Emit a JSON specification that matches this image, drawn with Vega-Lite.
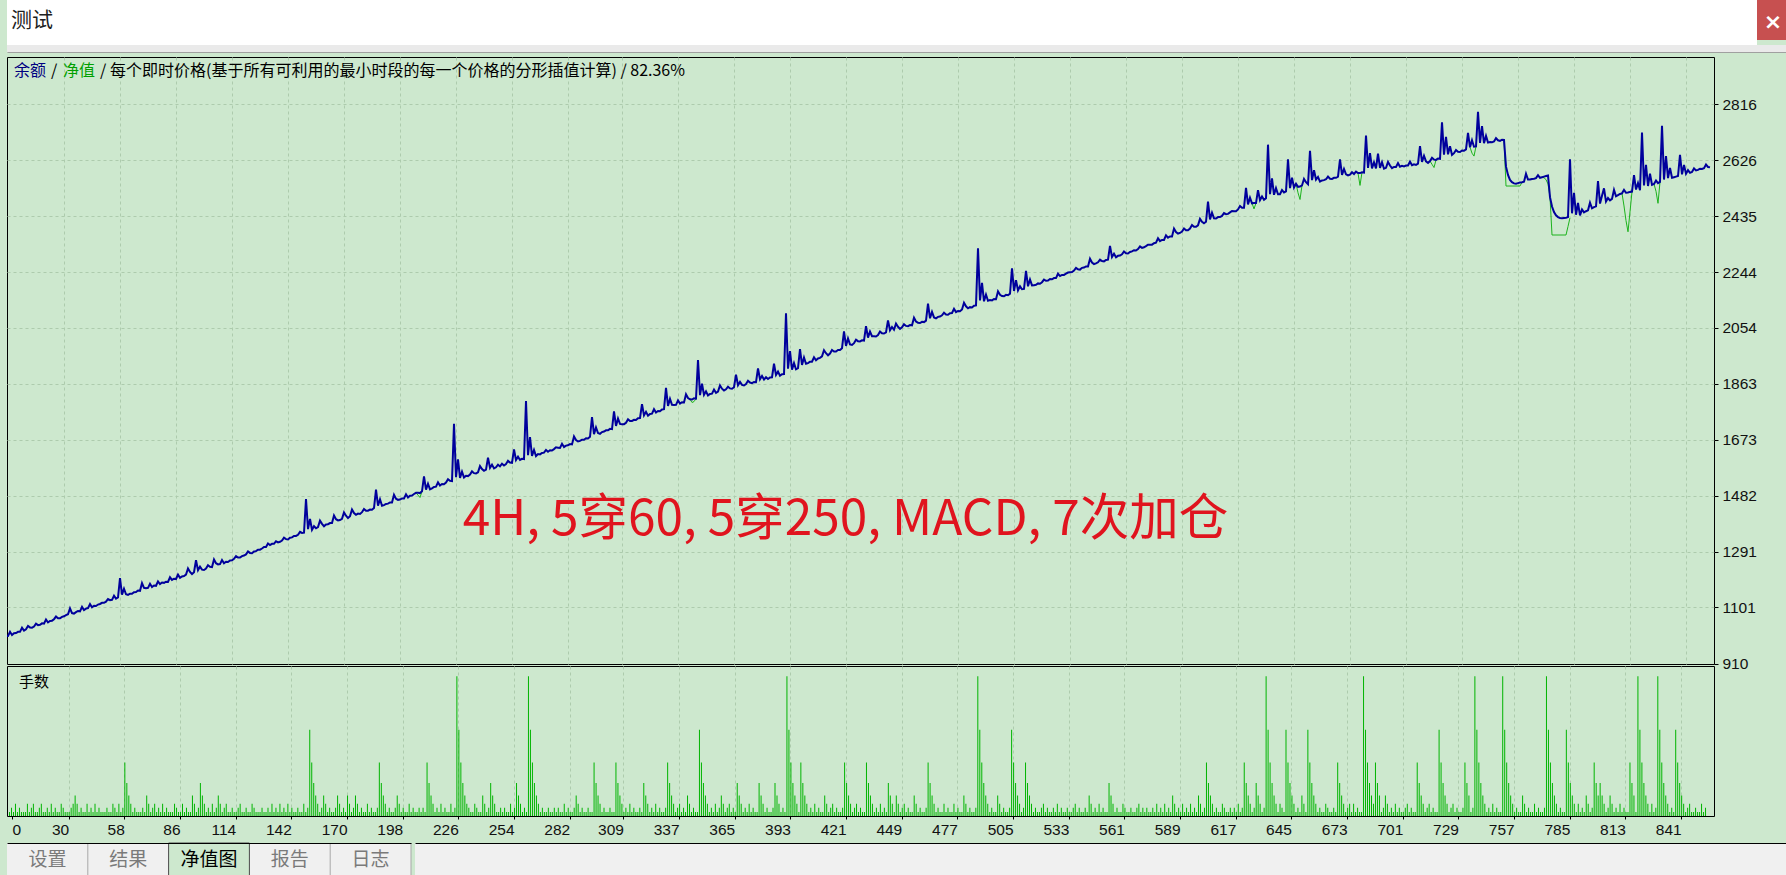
{
"$schema": "https://vega.github.io/schema/vega-lite/v6.json",
"background": "#CDE8CE",
"padding": {"left": 4, "top": 0, "right": 0, "bottom": 0},
"config": {"view": {"stroke": null}, "font": "Liberation Sans"},
"datasets": {
"tabs": [{"tab": "设置"}, {"tab": "结果"}, {"tab": "净值图"}, {"tab": "报告"}, {"tab": "日志"}],
"equity": [
{"seg":1,"n":206,"eq":1492},{"seg":1,"n":207,"eq":1484},{"seg":1,"n":208,"eq":1476},{"seg":1,"n":209,"eq":1497},
{"seg":2,"n":343,"eq":1811},{"seg":2,"n":344,"eq":1800},{"seg":2,"n":345,"eq":1803},{"seg":2,"n":346,"eq":1813},
{"seg":3,"n":624,"eq":2479},{"seg":3,"n":625,"eq":2460},{"seg":3,"n":626,"eq":2480},
{"seg":4,"n":646,"eq":2546},{"seg":4,"n":647,"eq":2515},{"seg":4,"n":648,"eq":2492},{"seg":4,"n":649,"eq":2540},
{"seg":5,"n":677,"eq":2582},{"seg":5,"n":678,"eq":2540},{"seg":5,"n":679,"eq":2585},
{"seg":6,"n":713,"eq":2623},{"seg":6,"n":714,"eq":2612},{"seg":6,"n":715,"eq":2601},{"seg":6,"n":716,"eq":2627},
{"seg":7,"n":733,"eq":2670},{"seg":7,"n":734,"eq":2650},{"seg":7,"n":735,"eq":2640},{"seg":7,"n":736,"eq":2673},
{"seg":8,"n":750,"eq":2695},{"seg":8,"n":751,"eq":2538},{"seg":8,"n":752,"eq":2538},{"seg":8,"n":753,"eq":2538},{"seg":8,"n":754,"eq":2538},{"seg":8,"n":755,"eq":2538},{"seg":8,"n":756,"eq":2538},{"seg":8,"n":757,"eq":2538},{"seg":8,"n":758,"eq":2538},{"seg":8,"n":759,"eq":2551},
{"seg":9,"n":769,"eq":2568},{"seg":9,"n":770,"eq":2566},{"seg":9,"n":771,"eq":2560},{"seg":9,"n":772,"eq":2545},{"seg":9,"n":773,"eq":2500},{"seg":9,"n":774,"eq":2371},{"seg":9,"n":775,"eq":2371},{"seg":9,"n":776,"eq":2371},{"seg":9,"n":777,"eq":2371},{"seg":9,"n":778,"eq":2371},{"seg":9,"n":779,"eq":2371},{"seg":9,"n":780,"eq":2371},{"seg":9,"n":781,"eq":2371},{"seg":9,"n":782,"eq":2400},{"seg":9,"n":783,"eq":2430},
{"seg":10,"n":809,"eq":2513},{"seg":10,"n":810,"eq":2470},{"seg":10,"n":811,"eq":2420},{"seg":10,"n":812,"eq":2382},{"seg":10,"n":813,"eq":2450},{"seg":10,"n":814,"eq":2519},
{"seg":11,"n":825,"eq":2545},{"seg":11,"n":826,"eq":2520},{"seg":11,"n":827,"eq":2479},{"seg":11,"n":828,"eq":2552}
],
"trades": [
{"n":0,"b":1000,"lot":0.01},{"n":1,"b":1004,"lot":0.02},{"n":2,"b":1004,"lot":0.01},{"n":3,"b":1018,"lot":0.03},{"n":4,"b":1007,"lot":0.01},{"n":5,"b":1013,"lot":0.02},{"n":6,"b":1014,"lot":0.01},{"n":7,"b":1018,"lot":0.01},{"n":8,"b":1018,"lot":0.01},{"n":9,"b":1032,"lot":0.03},
{"n":10,"b":1022,"lot":0.01},{"n":11,"b":1027,"lot":0.02},{"n":12,"b":1038,"lot":0.03},{"n":13,"b":1033,"lot":0.01},{"n":14,"b":1032,"lot":0.01},{"n":15,"b":1036,"lot":0.02},{"n":16,"b":1046,"lot":0.03},{"n":17,"b":1041,"lot":0.01},{"n":18,"b":1042,"lot":0.01},{"n":19,"b":1047,"lot":0.02},
{"n":20,"b":1046,"lot":0.01},{"n":21,"b":1060,"lot":0.03},{"n":22,"b":1050,"lot":0.01},{"n":23,"b":1055,"lot":0.02},{"n":24,"b":1056,"lot":0.01},{"n":25,"b":1061,"lot":0.01},{"n":26,"b":1070,"lot":0.03},{"n":27,"b":1064,"lot":0.02},{"n":28,"b":1064,"lot":0.01},{"n":29,"b":1069,"lot":0.01},
{"n":30,"b":1071,"lot":0.01},{"n":31,"b":1075,"lot":0.02},{"n":32,"b":1078,"lot":0.03},{"n":33,"b":1098,"lot":0.05},{"n":34,"b":1082,"lot":0.03},{"n":35,"b":1080,"lot":0.01},{"n":36,"b":1085,"lot":0.02},{"n":37,"b":1089,"lot":0.01},{"n":38,"b":1088,"lot":0.01},{"n":39,"b":1103,"lot":0.03},
{"n":40,"b":1092,"lot":0.01},{"n":41,"b":1097,"lot":0.02},{"n":42,"b":1099,"lot":0.01},{"n":43,"b":1113,"lot":0.03},{"n":44,"b":1102,"lot":0.01},{"n":45,"b":1107,"lot":0.02},{"n":46,"b":1106,"lot":0.01},{"n":47,"b":1111,"lot":0.01},{"n":48,"b":1113,"lot":0.01},{"n":49,"b":1117,"lot":0.02},
{"n":50,"b":1117,"lot":0.01},{"n":51,"b":1121,"lot":0.01},{"n":52,"b":1130,"lot":0.03},{"n":53,"b":1126,"lot":0.02},{"n":54,"b":1127,"lot":0.01},{"n":55,"b":1141,"lot":0.03},{"n":56,"b":1131,"lot":0.01},{"n":57,"b":1135,"lot":0.02},{"n":58,"b":1201,"lot":0.13},{"n":59,"b":1145,"lot":0.08},
{"n":60,"b":1165,"lot":0.05},{"n":61,"b":1146,"lot":0.03},{"n":62,"b":1144,"lot":0.01},{"n":63,"b":1148,"lot":0.02},{"n":64,"b":1148,"lot":0.01},{"n":65,"b":1153,"lot":0.01},{"n":66,"b":1154,"lot":0.01},{"n":67,"b":1159,"lot":0.02},{"n":68,"b":1158,"lot":0.01},{"n":69,"b":1184,"lot":0.05},
{"n":70,"b":1168,"lot":0.03},{"n":71,"b":1167,"lot":0.01},{"n":72,"b":1168,"lot":0.02},{"n":73,"b":1182,"lot":0.03},{"n":74,"b":1171,"lot":0.01},{"n":75,"b":1176,"lot":0.02},{"n":76,"b":1175,"lot":0.01},{"n":77,"b":1190,"lot":0.03},{"n":78,"b":1181,"lot":0.01},{"n":79,"b":1186,"lot":0.02},
{"n":80,"b":1185,"lot":0.01},{"n":81,"b":1189,"lot":0.01},{"n":82,"b":1188,"lot":0.01},{"n":83,"b":1204,"lot":0.03},{"n":84,"b":1195,"lot":0.02},{"n":85,"b":1199,"lot":0.01},{"n":86,"b":1198,"lot":0.01},{"n":87,"b":1213,"lot":0.03},{"n":88,"b":1202,"lot":0.01},{"n":89,"b":1207,"lot":0.02},
{"n":90,"b":1208,"lot":0.01},{"n":91,"b":1213,"lot":0.01},{"n":92,"b":1234,"lot":0.05},{"n":93,"b":1222,"lot":0.03},{"n":94,"b":1215,"lot":0.01},{"n":95,"b":1221,"lot":0.02},{"n":96,"b":1262,"lot":0.08},{"n":97,"b":1228,"lot":0.05},{"n":98,"b":1240,"lot":0.03},{"n":99,"b":1230,"lot":0.01},
{"n":100,"b":1229,"lot":0.02},{"n":101,"b":1234,"lot":0.01},{"n":102,"b":1245,"lot":0.03},{"n":103,"b":1240,"lot":0.01},{"n":104,"b":1239,"lot":0.02},{"n":105,"b":1265,"lot":0.05},{"n":106,"b":1252,"lot":0.03},{"n":107,"b":1248,"lot":0.01},{"n":108,"b":1249,"lot":0.02},{"n":109,"b":1263,"lot":0.03},
{"n":110,"b":1252,"lot":0.01},{"n":111,"b":1257,"lot":0.01},{"n":112,"b":1256,"lot":0.02},{"n":113,"b":1261,"lot":0.01},{"n":114,"b":1262,"lot":0.01},{"n":115,"b":1267,"lot":0.02},{"n":116,"b":1276,"lot":0.03},{"n":117,"b":1271,"lot":0.01},{"n":118,"b":1271,"lot":0.01},{"n":119,"b":1276,"lot":0.02},
{"n":120,"b":1278,"lot":0.01},{"n":121,"b":1282,"lot":0.01},{"n":122,"b":1292,"lot":0.03},{"n":123,"b":1287,"lot":0.02},{"n":124,"b":1286,"lot":0.01},{"n":125,"b":1292,"lot":0.01},{"n":126,"b":1293,"lot":0.01},{"n":127,"b":1298,"lot":0.02},{"n":128,"b":1298,"lot":0.01},{"n":129,"b":1302,"lot":0.01},
{"n":130,"b":1307,"lot":0.02},{"n":131,"b":1307,"lot":0.01},{"n":132,"b":1319,"lot":0.03},{"n":133,"b":1314,"lot":0.01},{"n":134,"b":1318,"lot":0.02},{"n":135,"b":1318,"lot":0.01},{"n":136,"b":1327,"lot":0.03},{"n":137,"b":1323,"lot":0.01},{"n":138,"b":1325,"lot":0.02},{"n":139,"b":1329,"lot":0.01},
{"n":140,"b":1339,"lot":0.03},{"n":141,"b":1334,"lot":0.01},{"n":142,"b":1333,"lot":0.02},{"n":143,"b":1339,"lot":0.01},{"n":144,"b":1340,"lot":0.01},{"n":145,"b":1345,"lot":0.02},{"n":146,"b":1345,"lot":0.01},{"n":147,"b":1349,"lot":0.01},{"n":148,"b":1359,"lot":0.03},{"n":149,"b":1355,"lot":0.01},
{"n":150,"b":1356,"lot":0.02},{"n":151,"b":1471,"lot":0.21},{"n":152,"b":1368,"lot":0.13},{"n":153,"b":1403,"lot":0.08},{"n":154,"b":1366,"lot":0.05},{"n":155,"b":1378,"lot":0.03},{"n":156,"b":1371,"lot":0.01},{"n":157,"b":1375,"lot":0.02},{"n":158,"b":1397,"lot":0.05},{"n":159,"b":1386,"lot":0.03},
{"n":160,"b":1378,"lot":0.01},{"n":161,"b":1384,"lot":0.02},{"n":162,"b":1385,"lot":0.01},{"n":163,"b":1389,"lot":0.01},{"n":164,"b":1389,"lot":0.02},{"n":165,"b":1415,"lot":0.05},{"n":166,"b":1402,"lot":0.03},{"n":167,"b":1398,"lot":0.01},{"n":168,"b":1399,"lot":0.02},{"n":169,"b":1403,"lot":0.01},
{"n":170,"b":1425,"lot":0.05},{"n":171,"b":1414,"lot":0.03},{"n":172,"b":1406,"lot":0.01},{"n":173,"b":1412,"lot":0.02},{"n":174,"b":1435,"lot":0.05},{"n":175,"b":1423,"lot":0.03},{"n":176,"b":1417,"lot":0.01},{"n":177,"b":1421,"lot":0.02},{"n":178,"b":1420,"lot":0.01},{"n":179,"b":1426,"lot":0.01},
{"n":180,"b":1437,"lot":0.03},{"n":181,"b":1431,"lot":0.01},{"n":182,"b":1431,"lot":0.02},{"n":183,"b":1435,"lot":0.01},{"n":184,"b":1434,"lot":0.01},{"n":185,"b":1440,"lot":0.02},{"n":186,"b":1503,"lot":0.13},{"n":187,"b":1448,"lot":0.08},{"n":188,"b":1470,"lot":0.05},{"n":189,"b":1448,"lot":0.03},
{"n":190,"b":1450,"lot":0.01},{"n":191,"b":1454,"lot":0.02},{"n":192,"b":1455,"lot":0.01},{"n":193,"b":1459,"lot":0.01},{"n":194,"b":1459,"lot":0.02},{"n":195,"b":1485,"lot":0.05},{"n":196,"b":1472,"lot":0.03},{"n":197,"b":1468,"lot":0.01},{"n":198,"b":1469,"lot":0.02},{"n":199,"b":1473,"lot":0.01},
{"n":200,"b":1473,"lot":0.01},{"n":201,"b":1487,"lot":0.03},{"n":202,"b":1476,"lot":0.01},{"n":203,"b":1482,"lot":0.02},{"n":204,"b":1483,"lot":0.01},{"n":205,"b":1488,"lot":0.01},{"n":206,"b":1492,"lot":0.02},{"n":207,"b":1492,"lot":0.01},{"n":208,"b":1491,"lot":0.02},{"n":209,"b":1497,"lot":0.01},
{"n":210,"b":1548,"lot":0.13},{"n":211,"b":1503,"lot":0.08},{"n":212,"b":1523,"lot":0.05},{"n":213,"b":1504,"lot":0.03},{"n":214,"b":1507,"lot":0.01},{"n":215,"b":1512,"lot":0.02},{"n":216,"b":1513,"lot":0.01},{"n":217,"b":1528,"lot":0.03},{"n":218,"b":1517,"lot":0.01},{"n":219,"b":1522,"lot":0.02},
{"n":220,"b":1521,"lot":0.01},{"n":221,"b":1527,"lot":0.01},{"n":222,"b":1538,"lot":0.03},{"n":223,"b":1533,"lot":0.01},{"n":224,"b":1532,"lot":0.02},{"n":225,"b":1727,"lot":0.34},{"n":226,"b":1545,"lot":0.21},{"n":227,"b":1606,"lot":0.13},{"n":228,"b":1543,"lot":0.08},{"n":229,"b":1564,"lot":0.05},
{"n":230,"b":1544,"lot":0.03},{"n":231,"b":1550,"lot":0.02},{"n":232,"b":1549,"lot":0.01},{"n":233,"b":1554,"lot":0.01},{"n":234,"b":1565,"lot":0.03},{"n":235,"b":1559,"lot":0.02},{"n":236,"b":1558,"lot":0.01},{"n":237,"b":1562,"lot":0.01},{"n":238,"b":1583,"lot":0.05},{"n":239,"b":1573,"lot":0.03},
{"n":240,"b":1567,"lot":0.01},{"n":241,"b":1571,"lot":0.02},{"n":242,"b":1612,"lot":0.08},{"n":243,"b":1577,"lot":0.05},{"n":244,"b":1588,"lot":0.03},{"n":245,"b":1575,"lot":0.01},{"n":246,"b":1579,"lot":0.01},{"n":247,"b":1588,"lot":0.02},{"n":248,"b":1582,"lot":0.01},{"n":249,"b":1591,"lot":0.02},
{"n":250,"b":1585,"lot":0.01},{"n":251,"b":1590,"lot":0.01},{"n":252,"b":1601,"lot":0.03},{"n":253,"b":1595,"lot":0.01},{"n":254,"b":1594,"lot":0.02},{"n":255,"b":1640,"lot":0.08},{"n":256,"b":1604,"lot":0.05},{"n":257,"b":1615,"lot":0.03},{"n":258,"b":1604,"lot":0.01},{"n":259,"b":1608,"lot":0.02},
{"n":260,"b":1607,"lot":0.01},{"n":261,"b":1805,"lot":0.34},{"n":262,"b":1620,"lot":0.21},{"n":263,"b":1682,"lot":0.13},{"n":264,"b":1618,"lot":0.08},{"n":265,"b":1638,"lot":0.05},{"n":266,"b":1617,"lot":0.03},{"n":267,"b":1624,"lot":0.01},{"n":268,"b":1623,"lot":0.02},{"n":269,"b":1628,"lot":0.01},
{"n":270,"b":1629,"lot":0.01},{"n":271,"b":1638,"lot":0.02},{"n":272,"b":1632,"lot":0.01},{"n":273,"b":1637,"lot":0.01},{"n":274,"b":1636,"lot":0.02},{"n":275,"b":1641,"lot":0.01},{"n":276,"b":1647,"lot":0.02},{"n":277,"b":1646,"lot":0.01},{"n":278,"b":1645,"lot":0.01},{"n":279,"b":1659,"lot":0.03},
{"n":280,"b":1648,"lot":0.01},{"n":281,"b":1653,"lot":0.02},{"n":282,"b":1654,"lot":0.01},{"n":283,"b":1658,"lot":0.01},{"n":284,"b":1657,"lot":0.02},{"n":285,"b":1684,"lot":0.05},{"n":286,"b":1672,"lot":0.03},{"n":287,"b":1667,"lot":0.01},{"n":288,"b":1669,"lot":0.02},{"n":289,"b":1673,"lot":0.01},
{"n":290,"b":1673,"lot":0.01},{"n":291,"b":1678,"lot":0.02},{"n":292,"b":1677,"lot":0.01},{"n":293,"b":1683,"lot":0.01},{"n":294,"b":1750,"lot":0.13},{"n":295,"b":1692,"lot":0.08},{"n":296,"b":1715,"lot":0.05},{"n":297,"b":1696,"lot":0.03},{"n":298,"b":1693,"lot":0.01},{"n":299,"b":1699,"lot":0.02},
{"n":300,"b":1701,"lot":0.01},{"n":301,"b":1705,"lot":0.01},{"n":302,"b":1705,"lot":0.02},{"n":303,"b":1710,"lot":0.01},{"n":304,"b":1709,"lot":0.01},{"n":305,"b":1770,"lot":0.13},{"n":306,"b":1720,"lot":0.08},{"n":307,"b":1745,"lot":0.05},{"n":308,"b":1727,"lot":0.03},{"n":309,"b":1726,"lot":0.01},
{"n":310,"b":1726,"lot":0.02},{"n":311,"b":1731,"lot":0.01},{"n":312,"b":1743,"lot":0.03},{"n":313,"b":1737,"lot":0.01},{"n":314,"b":1737,"lot":0.02},{"n":315,"b":1741,"lot":0.01},{"n":316,"b":1740,"lot":0.01},{"n":317,"b":1746,"lot":0.02},{"n":318,"b":1747,"lot":0.01},{"n":319,"b":1794,"lot":0.08},
{"n":320,"b":1756,"lot":0.05},{"n":321,"b":1768,"lot":0.03},{"n":322,"b":1755,"lot":0.01},{"n":323,"b":1761,"lot":0.02},{"n":324,"b":1762,"lot":0.01},{"n":325,"b":1777,"lot":0.03},{"n":326,"b":1766,"lot":0.01},{"n":327,"b":1771,"lot":0.02},{"n":328,"b":1770,"lot":0.01},{"n":329,"b":1776,"lot":0.01},
{"n":330,"b":1777,"lot":0.02},{"n":331,"b":1850,"lot":0.13},{"n":332,"b":1788,"lot":0.08},{"n":333,"b":1812,"lot":0.05},{"n":334,"b":1792,"lot":0.03},{"n":335,"b":1791,"lot":0.01},{"n":336,"b":1792,"lot":0.02},{"n":337,"b":1807,"lot":0.03},{"n":338,"b":1796,"lot":0.01},{"n":339,"b":1801,"lot":0.02},
{"n":340,"b":1800,"lot":0.01},{"n":341,"b":1828,"lot":0.05},{"n":342,"b":1815,"lot":0.03},{"n":343,"b":1811,"lot":0.01},{"n":344,"b":1810,"lot":0.02},{"n":345,"b":1814,"lot":0.01},{"n":346,"b":1813,"lot":0.01},{"n":347,"b":1945,"lot":0.21},{"n":348,"b":1825,"lot":0.13},{"n":349,"b":1864,"lot":0.08},
{"n":350,"b":1826,"lot":0.05},{"n":351,"b":1838,"lot":0.03},{"n":352,"b":1824,"lot":0.01},{"n":353,"b":1829,"lot":0.02},{"n":354,"b":1830,"lot":0.01},{"n":355,"b":1844,"lot":0.03},{"n":356,"b":1833,"lot":0.01},{"n":357,"b":1837,"lot":0.02},{"n":358,"b":1858,"lot":0.05},{"n":359,"b":1847,"lot":0.03},
{"n":360,"b":1841,"lot":0.01},{"n":361,"b":1845,"lot":0.02},{"n":362,"b":1854,"lot":0.03},{"n":363,"b":1848,"lot":0.01},{"n":364,"b":1847,"lot":0.02},{"n":365,"b":1852,"lot":0.01},{"n":366,"b":1895,"lot":0.08},{"n":367,"b":1859,"lot":0.05},{"n":368,"b":1870,"lot":0.03},{"n":369,"b":1860,"lot":0.01},
{"n":370,"b":1858,"lot":0.02},{"n":371,"b":1863,"lot":0.01},{"n":372,"b":1874,"lot":0.03},{"n":373,"b":1868,"lot":0.01},{"n":374,"b":1866,"lot":0.02},{"n":375,"b":1870,"lot":0.01},{"n":376,"b":1869,"lot":0.01},{"n":377,"b":1916,"lot":0.08},{"n":378,"b":1879,"lot":0.05},{"n":379,"b":1890,"lot":0.03},
{"n":380,"b":1878,"lot":0.01},{"n":381,"b":1886,"lot":0.02},{"n":382,"b":1880,"lot":0.01},{"n":383,"b":1885,"lot":0.01},{"n":384,"b":1886,"lot":0.02},{"n":385,"b":1932,"lot":0.08},{"n":386,"b":1894,"lot":0.05},{"n":387,"b":1905,"lot":0.03},{"n":388,"b":1891,"lot":0.01},{"n":389,"b":1896,"lot":0.02},
{"n":390,"b":1897,"lot":0.01},{"n":391,"b":2104,"lot":0.34},{"n":392,"b":1915,"lot":0.21},{"n":393,"b":1975,"lot":0.13},{"n":394,"b":1912,"lot":0.08},{"n":395,"b":1934,"lot":0.05},{"n":396,"b":1913,"lot":0.03},{"n":397,"b":1917,"lot":0.01},{"n":398,"b":1982,"lot":0.13},{"n":399,"b":1928,"lot":0.08},
{"n":400,"b":1953,"lot":0.05},{"n":401,"b":1932,"lot":0.03},{"n":402,"b":1934,"lot":0.01},{"n":403,"b":1939,"lot":0.02},{"n":404,"b":1939,"lot":0.01},{"n":405,"b":1954,"lot":0.03},{"n":406,"b":1944,"lot":0.01},{"n":407,"b":1950,"lot":0.02},{"n":408,"b":1952,"lot":0.01},{"n":409,"b":1957,"lot":0.01},
{"n":410,"b":1978,"lot":0.05},{"n":411,"b":1968,"lot":0.03},{"n":412,"b":1961,"lot":0.01},{"n":413,"b":1967,"lot":0.02},{"n":414,"b":1979,"lot":0.03},{"n":415,"b":1974,"lot":0.01},{"n":416,"b":1974,"lot":0.02},{"n":417,"b":1979,"lot":0.01},{"n":418,"b":1979,"lot":0.01},{"n":419,"b":1985,"lot":0.02},
{"n":420,"b":2042,"lot":0.13},{"n":421,"b":1993,"lot":0.08},{"n":422,"b":2018,"lot":0.05},{"n":423,"b":1998,"lot":0.03},{"n":424,"b":1996,"lot":0.01},{"n":425,"b":2002,"lot":0.02},{"n":426,"b":2014,"lot":0.03},{"n":427,"b":2009,"lot":0.01},{"n":428,"b":2008,"lot":0.02},{"n":429,"b":2012,"lot":0.01},
{"n":430,"b":2011,"lot":0.01},{"n":431,"b":2060,"lot":0.13},{"n":432,"b":2021,"lot":0.08},{"n":433,"b":2042,"lot":0.05},{"n":434,"b":2026,"lot":0.03},{"n":435,"b":2026,"lot":0.01},{"n":436,"b":2025,"lot":0.02},{"n":437,"b":2030,"lot":0.01},{"n":438,"b":2042,"lot":0.03},{"n":439,"b":2036,"lot":0.01},
{"n":440,"b":2035,"lot":0.02},{"n":441,"b":2039,"lot":0.01},{"n":442,"b":2080,"lot":0.08},{"n":443,"b":2046,"lot":0.05},{"n":444,"b":2057,"lot":0.03},{"n":445,"b":2048,"lot":0.01},{"n":446,"b":2069,"lot":0.05},{"n":447,"b":2058,"lot":0.03},{"n":448,"b":2051,"lot":0.01},{"n":449,"b":2056,"lot":0.02},
{"n":450,"b":2067,"lot":0.03},{"n":451,"b":2061,"lot":0.01},{"n":452,"b":2060,"lot":0.02},{"n":453,"b":2064,"lot":0.01},{"n":454,"b":2063,"lot":0.01},{"n":455,"b":2089,"lot":0.05},{"n":456,"b":2076,"lot":0.03},{"n":457,"b":2072,"lot":0.01},{"n":458,"b":2071,"lot":0.02},{"n":459,"b":2075,"lot":0.01},
{"n":460,"b":2074,"lot":0.01},{"n":461,"b":2079,"lot":0.02},{"n":462,"b":2137,"lot":0.13},{"n":463,"b":2087,"lot":0.08},{"n":464,"b":2109,"lot":0.05},{"n":465,"b":2090,"lot":0.03},{"n":466,"b":2087,"lot":0.01},{"n":467,"b":2092,"lot":0.02},{"n":468,"b":2093,"lot":0.01},{"n":469,"b":2097,"lot":0.01},
{"n":470,"b":2106,"lot":0.03},{"n":471,"b":2100,"lot":0.01},{"n":472,"b":2099,"lot":0.02},{"n":473,"b":2104,"lot":0.01},{"n":474,"b":2105,"lot":0.01},{"n":475,"b":2119,"lot":0.03},{"n":476,"b":2108,"lot":0.01},{"n":477,"b":2112,"lot":0.02},{"n":478,"b":2111,"lot":0.01},{"n":479,"b":2117,"lot":0.01},
{"n":480,"b":2140,"lot":0.05},{"n":481,"b":2128,"lot":0.03},{"n":482,"b":2121,"lot":0.01},{"n":483,"b":2125,"lot":0.02},{"n":484,"b":2124,"lot":0.01},{"n":485,"b":2130,"lot":0.01},{"n":486,"b":2131,"lot":0.02},{"n":487,"b":2326,"lot":0.34},{"n":488,"b":2148,"lot":0.21},{"n":489,"b":2208,"lot":0.13},
{"n":490,"b":2145,"lot":0.08},{"n":491,"b":2168,"lot":0.05},{"n":492,"b":2147,"lot":0.03},{"n":493,"b":2149,"lot":0.01},{"n":494,"b":2148,"lot":0.02},{"n":495,"b":2153,"lot":0.01},{"n":496,"b":2152,"lot":0.01},{"n":497,"b":2179,"lot":0.05},{"n":498,"b":2167,"lot":0.03},{"n":499,"b":2163,"lot":0.01},
{"n":500,"b":2162,"lot":0.02},{"n":501,"b":2167,"lot":0.01},{"n":502,"b":2166,"lot":0.01},{"n":503,"b":2171,"lot":0.02},{"n":504,"b":2257,"lot":0.21},{"n":505,"b":2180,"lot":0.13},{"n":506,"b":2217,"lot":0.08},{"n":507,"b":2182,"lot":0.05},{"n":508,"b":2196,"lot":0.03},{"n":509,"b":2186,"lot":0.01},
{"n":510,"b":2187,"lot":0.02},{"n":511,"b":2249,"lot":0.13},{"n":512,"b":2196,"lot":0.08},{"n":513,"b":2219,"lot":0.05},{"n":514,"b":2199,"lot":0.03},{"n":515,"b":2200,"lot":0.01},{"n":516,"b":2201,"lot":0.02},{"n":517,"b":2206,"lot":0.01},{"n":518,"b":2205,"lot":0.01},{"n":519,"b":2210,"lot":0.02},
{"n":520,"b":2219,"lot":0.03},{"n":521,"b":2215,"lot":0.01},{"n":522,"b":2216,"lot":0.02},{"n":523,"b":2221,"lot":0.01},{"n":524,"b":2220,"lot":0.01},{"n":525,"b":2224,"lot":0.02},{"n":526,"b":2224,"lot":0.01},{"n":527,"b":2239,"lot":0.03},{"n":528,"b":2231,"lot":0.01},{"n":529,"b":2235,"lot":0.02},
{"n":530,"b":2235,"lot":0.01},{"n":531,"b":2239,"lot":0.01},{"n":532,"b":2243,"lot":0.02},{"n":533,"b":2244,"lot":0.01},{"n":534,"b":2245,"lot":0.01},{"n":535,"b":2250,"lot":0.02},{"n":536,"b":2259,"lot":0.03},{"n":537,"b":2254,"lot":0.01},{"n":538,"b":2253,"lot":0.02},{"n":539,"b":2259,"lot":0.01},
{"n":540,"b":2260,"lot":0.01},{"n":541,"b":2264,"lot":0.02},{"n":542,"b":2264,"lot":0.01},{"n":543,"b":2290,"lot":0.05},{"n":544,"b":2277,"lot":0.03},{"n":545,"b":2272,"lot":0.01},{"n":546,"b":2274,"lot":0.02},{"n":547,"b":2278,"lot":0.01},{"n":548,"b":2287,"lot":0.03},{"n":549,"b":2282,"lot":0.01},
{"n":550,"b":2281,"lot":0.02},{"n":551,"b":2286,"lot":0.01},{"n":552,"b":2287,"lot":0.01},{"n":553,"b":2334,"lot":0.08},{"n":554,"b":2296,"lot":0.05},{"n":555,"b":2307,"lot":0.03},{"n":556,"b":2295,"lot":0.01},{"n":557,"b":2300,"lot":0.02},{"n":558,"b":2301,"lot":0.01},{"n":559,"b":2305,"lot":0.01},
{"n":560,"b":2315,"lot":0.03},{"n":561,"b":2309,"lot":0.02},{"n":562,"b":2308,"lot":0.01},{"n":563,"b":2313,"lot":0.01},{"n":564,"b":2315,"lot":0.02},{"n":565,"b":2319,"lot":0.01},{"n":566,"b":2318,"lot":0.01},{"n":567,"b":2323,"lot":0.02},{"n":568,"b":2332,"lot":0.03},{"n":569,"b":2327,"lot":0.01},
{"n":570,"b":2329,"lot":0.02},{"n":571,"b":2333,"lot":0.01},{"n":572,"b":2338,"lot":0.02},{"n":573,"b":2338,"lot":0.01},{"n":574,"b":2338,"lot":0.01},{"n":575,"b":2343,"lot":0.02},{"n":576,"b":2345,"lot":0.01},{"n":577,"b":2360,"lot":0.03},{"n":578,"b":2350,"lot":0.01},{"n":579,"b":2354,"lot":0.02},
{"n":580,"b":2354,"lot":0.01},{"n":581,"b":2370,"lot":0.03},{"n":582,"b":2362,"lot":0.01},{"n":583,"b":2366,"lot":0.02},{"n":584,"b":2366,"lot":0.01},{"n":585,"b":2393,"lot":0.05},{"n":586,"b":2381,"lot":0.03},{"n":587,"b":2376,"lot":0.01},{"n":588,"b":2378,"lot":0.02},{"n":589,"b":2383,"lot":0.01},
{"n":590,"b":2393,"lot":0.03},{"n":591,"b":2387,"lot":0.01},{"n":592,"b":2387,"lot":0.02},{"n":593,"b":2393,"lot":0.01},{"n":594,"b":2405,"lot":0.03},{"n":595,"b":2399,"lot":0.01},{"n":596,"b":2399,"lot":0.02},{"n":597,"b":2404,"lot":0.01},{"n":598,"b":2426,"lot":0.05},{"n":599,"b":2416,"lot":0.03},
{"n":600,"b":2411,"lot":0.01},{"n":601,"b":2416,"lot":0.02},{"n":602,"b":2485,"lot":0.13},{"n":603,"b":2424,"lot":0.08},{"n":604,"b":2447,"lot":0.05},{"n":605,"b":2428,"lot":0.03},{"n":606,"b":2427,"lot":0.01},{"n":607,"b":2432,"lot":0.02},{"n":608,"b":2432,"lot":0.01},{"n":609,"b":2436,"lot":0.01},
{"n":610,"b":2446,"lot":0.03},{"n":611,"b":2442,"lot":0.02},{"n":612,"b":2443,"lot":0.01},{"n":613,"b":2448,"lot":0.01},{"n":614,"b":2453,"lot":0.02},{"n":615,"b":2452,"lot":0.01},{"n":616,"b":2452,"lot":0.02},{"n":617,"b":2458,"lot":0.01},{"n":618,"b":2470,"lot":0.03},{"n":619,"b":2464,"lot":0.01},
{"n":620,"b":2464,"lot":0.02},{"n":621,"b":2532,"lot":0.13},{"n":622,"b":2475,"lot":0.08},{"n":623,"b":2498,"lot":0.05},{"n":624,"b":2479,"lot":0.03},{"n":625,"b":2480,"lot":0.01},{"n":626,"b":2480,"lot":0.02},{"n":627,"b":2524,"lot":0.08},{"n":628,"b":2490,"lot":0.05},{"n":629,"b":2502,"lot":0.03},
{"n":630,"b":2491,"lot":0.01},{"n":631,"b":2496,"lot":0.02},{"n":632,"b":2679,"lot":0.34},{"n":633,"b":2510,"lot":0.21},{"n":634,"b":2564,"lot":0.13},{"n":635,"b":2508,"lot":0.08},{"n":636,"b":2531,"lot":0.05},{"n":637,"b":2510,"lot":0.03},{"n":638,"b":2510,"lot":0.01},{"n":639,"b":2524,"lot":0.03},
{"n":640,"b":2516,"lot":0.02},{"n":641,"b":2520,"lot":0.01},{"n":642,"b":2629,"lot":0.21},{"n":643,"b":2531,"lot":0.13},{"n":644,"b":2566,"lot":0.08},{"n":645,"b":2533,"lot":0.05},{"n":646,"b":2546,"lot":0.03},{"n":647,"b":2535,"lot":0.01},{"n":648,"b":2536,"lot":0.02},{"n":649,"b":2540,"lot":0.01},
{"n":650,"b":2562,"lot":0.05},{"n":651,"b":2551,"lot":0.03},{"n":652,"b":2544,"lot":0.01},{"n":653,"b":2658,"lot":0.21},{"n":654,"b":2558,"lot":0.13},{"n":655,"b":2592,"lot":0.08},{"n":656,"b":2560,"lot":0.05},{"n":657,"b":2569,"lot":0.03},{"n":658,"b":2553,"lot":0.01},{"n":659,"b":2557,"lot":0.02},
{"n":660,"b":2558,"lot":0.01},{"n":661,"b":2561,"lot":0.01},{"n":662,"b":2570,"lot":0.03},{"n":663,"b":2563,"lot":0.02},{"n":664,"b":2562,"lot":0.01},{"n":665,"b":2566,"lot":0.01},{"n":666,"b":2566,"lot":0.02},{"n":667,"b":2570,"lot":0.01},{"n":668,"b":2629,"lot":0.13},{"n":669,"b":2576,"lot":0.08},
{"n":670,"b":2596,"lot":0.05},{"n":671,"b":2578,"lot":0.03},{"n":672,"b":2574,"lot":0.01},{"n":673,"b":2577,"lot":0.02},{"n":674,"b":2585,"lot":0.03},{"n":675,"b":2579,"lot":0.01},{"n":676,"b":2587,"lot":0.03},{"n":677,"b":2582,"lot":0.01},{"n":678,"b":2582,"lot":0.02},{"n":679,"b":2585,"lot":0.01},
{"n":680,"b":2584,"lot":0.01},{"n":681,"b":2710,"lot":0.34},{"n":682,"b":2600,"lot":0.21},{"n":683,"b":2650,"lot":0.13},{"n":684,"b":2598,"lot":0.08},{"n":685,"b":2619,"lot":0.05},{"n":686,"b":2598,"lot":0.03},{"n":687,"b":2648,"lot":0.13},{"n":688,"b":2600,"lot":0.08},{"n":689,"b":2619,"lot":0.05},
{"n":690,"b":2597,"lot":0.01},{"n":691,"b":2600,"lot":0.02},{"n":692,"b":2620,"lot":0.05},{"n":693,"b":2608,"lot":0.03},{"n":694,"b":2599,"lot":0.01},{"n":695,"b":2603,"lot":0.02},{"n":696,"b":2603,"lot":0.01},{"n":697,"b":2616,"lot":0.03},{"n":698,"b":2604,"lot":0.01},{"n":699,"b":2607,"lot":0.02},
{"n":700,"b":2605,"lot":0.01},{"n":701,"b":2608,"lot":0.01},{"n":702,"b":2608,"lot":0.02},{"n":703,"b":2621,"lot":0.03},{"n":704,"b":2609,"lot":0.01},{"n":705,"b":2612,"lot":0.02},{"n":706,"b":2610,"lot":0.01},{"n":707,"b":2614,"lot":0.01},{"n":708,"b":2674,"lot":0.13},{"n":709,"b":2620,"lot":0.08},
{"n":710,"b":2641,"lot":0.05},{"n":711,"b":2622,"lot":0.03},{"n":712,"b":2617,"lot":0.01},{"n":713,"b":2623,"lot":0.02},{"n":714,"b":2634,"lot":0.03},{"n":715,"b":2628,"lot":0.01},{"n":716,"b":2627,"lot":0.02},{"n":717,"b":2632,"lot":0.01},{"n":718,"b":2631,"lot":0.01},{"n":719,"b":2755,"lot":0.21},
{"n":720,"b":2645,"lot":0.13},{"n":721,"b":2706,"lot":0.08},{"n":722,"b":2646,"lot":0.05},{"n":723,"b":2674,"lot":0.03},{"n":724,"b":2644,"lot":0.01},{"n":725,"b":2650,"lot":0.02},{"n":726,"b":2661,"lot":0.03},{"n":727,"b":2655,"lot":0.01},{"n":728,"b":2654,"lot":0.02},{"n":729,"b":2659,"lot":0.01},
{"n":730,"b":2658,"lot":0.01},{"n":731,"b":2663,"lot":0.02},{"n":732,"b":2719,"lot":0.13},{"n":733,"b":2670,"lot":0.08},{"n":734,"b":2694,"lot":0.05},{"n":735,"b":2672,"lot":0.01},{"n":736,"b":2673,"lot":0.02},{"n":737,"b":2791,"lot":0.34},{"n":738,"b":2685,"lot":0.21},{"n":739,"b":2742,"lot":0.13},
{"n":740,"b":2684,"lot":0.08},{"n":741,"b":2709,"lot":0.05},{"n":742,"b":2686,"lot":0.03},{"n":743,"b":2688,"lot":0.01},{"n":744,"b":2687,"lot":0.02},{"n":745,"b":2690,"lot":0.01},{"n":746,"b":2701,"lot":0.03},{"n":747,"b":2694,"lot":0.01},{"n":748,"b":2692,"lot":0.02},{"n":749,"b":2696,"lot":0.01},
{"n":750,"b":2695,"lot":0.01},{"n":751,"b":2604,"lot":0.34},{"n":752,"b":2576,"lot":0.21},{"n":753,"b":2559,"lot":0.13},{"n":754,"b":2551,"lot":0.08},{"n":755,"b":2547,"lot":0.05},{"n":756,"b":2546,"lot":0.03},{"n":757,"b":2548,"lot":0.01},{"n":758,"b":2550,"lot":0.02},{"n":759,"b":2551,"lot":0.01},
{"n":760,"b":2553,"lot":0.01},{"n":761,"b":2580,"lot":0.05},{"n":762,"b":2560,"lot":0.03},{"n":763,"b":2560,"lot":0.01},{"n":764,"b":2562,"lot":0.02},{"n":765,"b":2563,"lot":0.01},{"n":766,"b":2565,"lot":0.01},{"n":767,"b":2575,"lot":0.03},{"n":768,"b":2566,"lot":0.01},{"n":769,"b":2568,"lot":0.02},
{"n":770,"b":2570,"lot":0.01},{"n":771,"b":2572,"lot":0.01},{"n":772,"b":2574,"lot":0.02},{"n":773,"b":2500,"lot":0.34},{"n":774,"b":2468,"lot":0.21},{"n":775,"b":2449,"lot":0.13},{"n":776,"b":2438,"lot":0.08},{"n":777,"b":2432,"lot":0.05},{"n":778,"b":2429,"lot":0.03},{"n":779,"b":2428,"lot":0.01},
{"n":780,"b":2429,"lot":0.02},{"n":781,"b":2430,"lot":0.01},{"n":782,"b":2432,"lot":0.01},{"n":783,"b":2629,"lot":0.21},{"n":784,"b":2445,"lot":0.13},{"n":785,"b":2515,"lot":0.08},{"n":786,"b":2440,"lot":0.05},{"n":787,"b":2480,"lot":0.03},{"n":788,"b":2438,"lot":0.01},{"n":789,"b":2458,"lot":0.03},
{"n":790,"b":2448,"lot":0.01},{"n":791,"b":2452,"lot":0.02},{"n":792,"b":2455,"lot":0.01},{"n":793,"b":2481,"lot":0.05},{"n":794,"b":2462,"lot":0.03},{"n":795,"b":2466,"lot":0.01},{"n":796,"b":2469,"lot":0.02},{"n":797,"b":2555,"lot":0.13},{"n":798,"b":2478,"lot":0.08},{"n":799,"b":2505,"lot":0.05},
{"n":800,"b":2530,"lot":0.08},{"n":801,"b":2485,"lot":0.05},{"n":802,"b":2497,"lot":0.03},{"n":803,"b":2489,"lot":0.01},{"n":804,"b":2494,"lot":0.02},{"n":805,"b":2525,"lot":0.05},{"n":806,"b":2503,"lot":0.03},{"n":807,"b":2507,"lot":0.01},{"n":808,"b":2511,"lot":0.02},{"n":809,"b":2513,"lot":0.01},
{"n":810,"b":2525,"lot":0.03},{"n":811,"b":2515,"lot":0.01},{"n":812,"b":2516,"lot":0.02},{"n":813,"b":2518,"lot":0.01},{"n":814,"b":2519,"lot":0.01},{"n":815,"b":2575,"lot":0.13},{"n":816,"b":2526,"lot":0.08},{"n":817,"b":2548,"lot":0.05},{"n":818,"b":2524,"lot":0.01},{"n":819,"b":2720,"lot":0.34},
{"n":820,"b":2540,"lot":0.21},{"n":821,"b":2610,"lot":0.13},{"n":822,"b":2538,"lot":0.08},{"n":823,"b":2580,"lot":0.05},{"n":824,"b":2542,"lot":0.03},{"n":825,"b":2545,"lot":0.01},{"n":826,"b":2557,"lot":0.03},{"n":827,"b":2548,"lot":0.01},{"n":828,"b":2552,"lot":0.02},{"n":829,"b":2743,"lot":0.34},
{"n":830,"b":2560,"lot":0.21},{"n":831,"b":2640,"lot":0.13},{"n":832,"b":2565,"lot":0.08},{"n":833,"b":2600,"lot":0.05},{"n":834,"b":2566,"lot":0.03},{"n":835,"b":2568,"lot":0.01},{"n":836,"b":2570,"lot":0.02},{"n":837,"b":2572,"lot":0.01},{"n":838,"b":2644,"lot":0.21},{"n":839,"b":2578,"lot":0.13},
{"n":840,"b":2610,"lot":0.08},{"n":841,"b":2580,"lot":0.05},{"n":842,"b":2592,"lot":0.03},{"n":843,"b":2583,"lot":0.01},{"n":844,"b":2586,"lot":0.02},{"n":845,"b":2598,"lot":0.03},{"n":846,"b":2591,"lot":0.01},{"n":847,"b":2593,"lot":0.01},{"n":848,"b":2597,"lot":0.02},{"n":849,"b":2596,"lot":0.01},
{"n":850,"b":2599,"lot":0.01},{"n":851,"b":2611,"lot":0.03},{"n":852,"b":2603,"lot":0.01},{"n":853,"b":2602,"lot":0.02}
]
},
"spacing": 4,
"vconcat": [
{
"spacing": 0,
"vconcat": [
{
"spacing": 0,
"hconcat": [
{
"width": 1750, "height": 45,
"view": {"fill": "#FFFFFF", "stroke": null},
"data": {"values": [{"k": 0}]},
"mark": {"type": "text", "text": "测试", "align": "left", "baseline": "middle", "dx": 4, "dy": -2, "font": "Noto Sans CJK SC", "fontSize": 21, "color": "#202020"},
"encoding": {
"x": {"datum": 0, "type": "quantitative", "scale": {"domain": [0, 1]}, "axis": null},
"y": {"datum": 0.5, "type": "quantitative", "scale": {"domain": [0, 1]}, "axis": null}
}
},
{
"width": 32, "height": 40,
"view": {"fill": "#C75050", "stroke": null},
"data": {"values": [{"k": 0}]},
"mark": {"type": "text", "text": "×", "align": "center", "baseline": "middle", "dy": 2, "font": "DejaVu Sans", "fontSize": 22, "fontWeight": "bold", "color": "#FFFFFF"},
"encoding": {
"x": {"datum": 0.5, "type": "quantitative", "scale": {"domain": [0, 1]}, "axis": null},
"y": {"datum": 0.5, "type": "quantitative", "scale": {"domain": [0, 1]}, "axis": null}
}
}
]
},
{
"width": 1782, "height": 7,
"view": {"fill": "#EAEAEA", "stroke": null},
"data": {"values": [{"k": 0}]},
"mark": {"type": "point", "opacity": 0},
"encoding": {"x": {"datum": 0, "type": "quantitative", "scale": {"domain": [0, 1]}, "axis": {"orient": "bottom", "domain": true, "domainColor": "#A0A0A0", "labels": false, "ticks": false, "grid": false, "title": null}}}
}
]
},
{
"spacing": 2,
"bounds": "flush",
"vconcat": [
{
"width": 1707, "height": 607,
"view": {"stroke": "#000000", "strokeWidth": 1},
"data": {"values": [{"k": 0}]},
"layer": [
{
"data": {"name": "equity"},
"mark": {"type": "line", "color": "#1DB31D", "strokeWidth": 1, "clip": true},
"encoding": {
"x": {"field": "n", "type": "quantitative", "scale": {"domain": [1.5, 855], "nice": false, "zero": false},
"axis": {"values": [30, 58, 86, 114, 142, 170, 198, 226, 254, 282, 309, 337, 365, 393, 421, 449, 477, 505, 533, 561, 589, 617, 645, 673, 701, 729, 757, 785, 813, 841], "labels": false, "ticks": false, "domain": false, "grid": true, "gridColor": "#ADCBAD", "gridDash": [3, 3], "title": null}},
"y": {"field": "eq", "type": "quantitative", "scale": {"domain": [908.3, 2977.9], "nice": false, "zero": false},
"axis": {"orient": "right", "values": [910, 1101, 1291, 1482, 1673, 1863, 2054, 2244, 2435, 2626, 2816], "format": "d", "tickSize": 4, "tickColor": "#000000", "labelPadding": 4, "labelFontSize": 15.5, "labelColor": "#111111", "labelBaseline": "middle", "domain": false, "grid": true, "gridColor": "#ADCBAD", "gridDash": [3, 3], "gridOpacity": {"condition": {"test": "datum.value == 910", "value": 0}, "value": 1}, "title": null}},
"detail": {"field": "seg", "type": "nominal"}
}
},
{
"data": {"name": "trades"},
"mark": {"type": "line", "color": "#00009C", "strokeWidth": 2, "clip": true},
"encoding": {
"x": {"field": "n", "type": "quantitative", "scale": {"domain": [1.5, 855], "nice": false, "zero": false}},
"y": {"field": "b", "type": "quantitative", "scale": {"domain": [908.3, 2977.9], "nice": false, "zero": false}}
}
},
{
"mark": {"type": "text", "text": "余额", "align": "left", "baseline": "middle", "font": "Noto Sans CJK SC", "fontSize": 16, "color": "#000080", "dx": 0},
"encoding": {"x": {"datum": 5, "type": "quantitative"}, "y": {"datum": 2930, "type": "quantitative"}}
},
{
"mark": {"type": "text", "text": "/", "align": "left", "baseline": "middle", "font": "Noto Sans CJK SC", "fontSize": 16, "color": "#000000", "dx": 37},
"encoding": {"x": {"datum": 5, "type": "quantitative"}, "y": {"datum": 2930, "type": "quantitative"}}
},
{
"mark": {"type": "text", "text": "净值", "align": "left", "baseline": "middle", "font": "Noto Sans CJK SC", "fontSize": 16, "color": "#00A000", "dx": 49},
"encoding": {"x": {"datum": 5, "type": "quantitative"}, "y": {"datum": 2930, "type": "quantitative"}}
},
{
"mark": {"type": "text", "text": "/", "align": "left", "baseline": "middle", "font": "Noto Sans CJK SC", "fontSize": 16, "color": "#000000", "dx": 86},
"encoding": {"x": {"datum": 5, "type": "quantitative"}, "y": {"datum": 2930, "type": "quantitative"}}
},
{
"mark": {"type": "text", "text": "每个即时价格(基于所有可利用的最小时段的每一个价格的分形插值计算) / 82.36%", "align": "left", "baseline": "middle", "font": "Noto Sans CJK SC", "fontSize": 16, "color": "#000000", "dx": 96},
"encoding": {"x": {"datum": 5, "type": "quantitative"}, "y": {"datum": 2930, "type": "quantitative"}}
},
{
"mark": {"type": "text", "text": "4H, 5穿60, 5穿250, MACD, 7次加仓", "align": "center", "baseline": "middle", "font": "Noto Sans CJK SC", "fontSize": 49.5, "color": "#E0141E"},
"encoding": {"x": {"datum": 420.75, "type": "quantitative"}, "y": {"datum": 1400, "type": "quantitative"}}
}
]
},
{
"width": 1707, "height": 150,
"view": {"stroke": "#000000", "strokeWidth": 1},
"layer": [
{
"data": {"name": "trades"},
"mark": {"type": "bar", "orient": "vertical", "width": 1, "xOffset": 0.5, "color": "#00B400", "clip": true},
"encoding": {
"x": {"field": "n", "type": "quantitative", "scale": {"domain": [1.5, 855], "nice": false, "zero": false},
"axis": {"values": [1.5, 30, 58, 86, 114, 142, 170, 198, 226, 254, 282, 309, 337, 365, 393, 421, 449, 477, 505, 533, 561, 589, 617, 645, 673, 701, 729, 757, 785, 813, 841], "format": "d", "labelExpr": "datum.value == 1.5 ? '0' : datum.label", "labelAlign": {"condition": {"test": "datum.value == 1.5", "value": "left"}, "value": "right"}, "gridOpacity": {"condition": {"test": "datum.value == 1.5", "value": 0}, "value": 1}, "labelFlush": false, "labelOverlap": false, "labelBaseline": "top", "labelPadding": 3, "labelFontSize": 15.5, "labelColor": "#111111", "tickSize": 3, "tickColor": "#000000", "domain": false, "grid": true, "gridColor": "#ADCBAD", "gridDash": [3, 3], "title": null}},
"y": {"field": "lot", "type": "quantitative", "scale": {"domain": [0, 0.365], "nice": false}, "axis": null}
}
},
{
"data": {"values": [{"k": 0}]},
"mark": {"type": "text", "text": "手数", "align": "left", "baseline": "middle", "dx": 7, "font": "Noto Sans CJK SC", "fontSize": 15, "color": "#000000"},
"encoding": {"x": {"datum": 1.5, "type": "quantitative"}, "y": {"datum": 0.326, "type": "quantitative"}}
}
]
}
]
},
{
"spacing": 0,
"hconcat": [
{
"width": 404, "height": 34,
"view": {"fill": "#F0F0F0", "stroke": null},
"data": {"name": "tabs"},
"layer": [
{
"transform": [{"filter": "datum.tab === '净值图'"}],
"mark": {"type": "rect", "fill": "#CDE8CE", "stroke": "#4A4A4A", "strokeWidth": 1},
"encoding": {"x": {"field": "tab", "type": "nominal", "sort": null, "scale": {"type": "band", "domain": ["设置", "结果", "净值图", "报告", "日志"], "paddingInner": 0, "paddingOuter": 0}, "axis": {"orient": "top", "domain": true, "domainColor": "#000000", "labels": false, "ticks": false, "grid": false, "title": null}}}
},
{
"transform": [{"filter": "datum.tab === '设置' || datum.tab === '报告' || datum.tab === '日志'"}],
"mark": {"type": "rule", "color": "#A8A8A8"},
"encoding": {"x": {"field": "tab", "type": "nominal", "sort": null, "bandPosition": 1}}
},
{
"mark": {"type": "text", "font": "Noto Sans CJK SC", "fontSize": 19, "baseline": "middle"},
"encoding": {"x": {"field": "tab", "type": "nominal", "sort": null, "bandPosition": 0.5}, "text": {"field": "tab"}, "color": {"condition": {"test": "datum.tab === '净值图'", "value": "#000000"}, "value": "#7A7A7A"}}
}
]
},
{
"width": 1378, "height": 34,
"view": {"fill": "#F0F0F0", "stroke": null},
"data": {"values": [{"k": 0}]},
"mark": {"type": "point", "opacity": 0},
"encoding": {"x": {"datum": 0, "type": "quantitative", "scale": {"domain": [0, 1]}, "axis": {"orient": "top", "domain": true, "domainColor": "#000000", "labels": false, "ticks": false, "grid": false, "title": null}}}
}
]
}
]
}
